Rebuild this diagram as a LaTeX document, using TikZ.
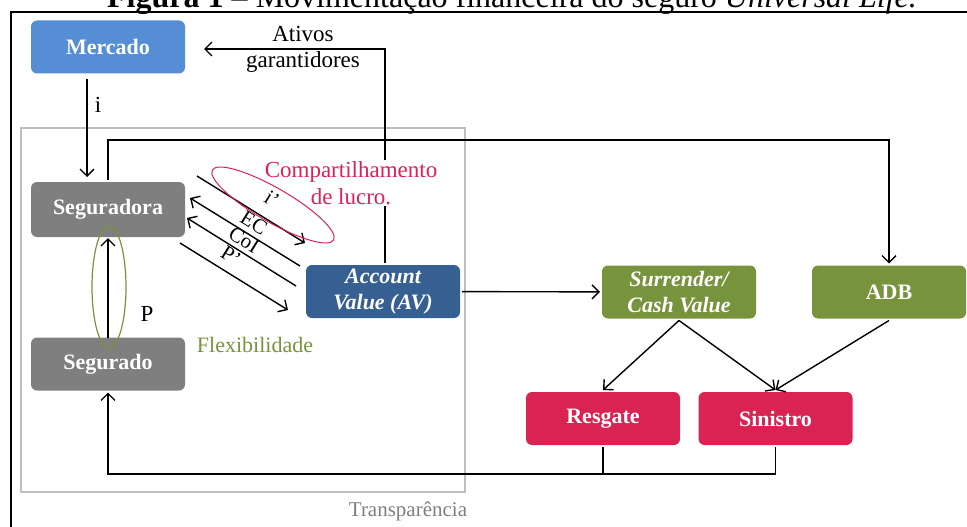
\documentclass[tikz,border=0pt]{standalone}
\usepackage{fontspec}
\setmainfont{Liberation Serif}
\usetikzlibrary{arrows.meta}
\definecolor{mercadoblue}{RGB}{85,142,213}
\definecolor{boxgray}{RGB}{127,127,127}
\definecolor{avblue}{RGB}{55,96,146}
\definecolor{leafgreen}{RGB}{119,147,60}
\definecolor{crimson}{RGB}{217,35,83}
\definecolor{framegray}{RGB}{191,191,191}

\begin{document}
\begin{tikzpicture}[x=1pt,y=-1pt,
  >={Straight Barb[length=7pt,width=14pt]},
  box/.style={rounded corners=6pt, minimum width=154pt, minimum height=53pt,
    inner sep=2pt, outer sep=2pt, text=white, align=center,
    font={\fontsize{22}{26}\selectfont\bfseries}},
  flow/.style={line width=1.4pt},
  lbl/.style={font={\fontsize{23}{26}\selectfont}, inner sep=1pt, align=center},
  flowlbl/.style={font={\fontsize{21}{22}\selectfont}, inner sep=0pt, rotate=-32}]
\useasboundingbox (0,0) rectangle (967,527);

% legenda cortada e moldura
\node[anchor=base, font={\fontsize{32}{34}\selectfont}] (caption) at (512,8)
  {\textbf{Figura 1 –} Movimentação financeira do seguro \textit{Universal Life.}};
\draw[line width=1.6pt] (11,540) -- (11,12) -- (980,12);
\draw[framegray, line width=1.5pt] (21,128) rectangle (465,492);
\node[lbl, text=boxgray, font={\fontsize{21}{24}\selectfont}] (transp) at (408,511) {Transparência};

% caixas
\node[box, fill=mercadoblue] (mercado) at (108,47) {Mercado};
\node[box, fill=boxgray, minimum height=55pt] (seguradora) at (108,209.5) {Seguradora};
\node[box, fill=boxgray] (segurado) at (108,364) {Segurado};
\node[box, fill=avblue] (av) at (383,291.5) {\itshape Account\\\itshape Value (AV)};
\node[box, fill=leafgreen] (surr) at (679,292) {\itshape Surrender/\\\itshape Cash Value};
\node[box, fill=leafgreen] (adb) at (889,292) {ADB};
\node[box, fill=crimson] (resgate) at (603,418.5) {Resgate};
\node[box, fill=crimson] (sinistro) at (775.5,418.5) {Sinistro};

% Mercado -> Seguradora
\draw[flow,->] ([xshift=-21pt,yshift=-4pt]mercado.south) -- ([xshift=-21pt,yshift=3pt]seguradora.north);
\node[lbl] (ilbl) at (98,105) {i};

% ativos garantidores
\coordinate (ativostip) at (204,49);
\draw[flow,->] ([xshift=2pt]av.north) |- (ativostip);
\node[lbl] (ativos) at (303,49) {Ativos\\garantidores};
\node[lbl, text=crimson, fill=white, font={\fontsize{23}{27}\selectfont}] (lucro) at (351,183) {Compartilhamento\\de lucro.};

% Seguradora -> ADB
\coordinate (topbend) at (889,140);
\draw[flow,->] ([outer sep=0pt]seguradora.north) |- (topbend) -- (adb.north);

% Segurado -> Seguradora, premio
\draw[flow,->] ([yshift=-2pt]segurado.north) -- ([yshift=1pt]seguradora.south);
\draw[leafgreen, line width=1.2pt] (109,287) ellipse [x radius=17pt, y radius=61pt];
\node[lbl] (plbl) at (147,314) {P};
\node[lbl, text=leafgreen, font={\fontsize{22}{24}\selectfont}] (flex) at (255,345) {Flexibilidade};

% fluxos entre Seguradora e AV
\coordinate (ia) at (197,176);  \coordinate (ib) at (305,243);
\coordinate (eca) at (190,198); \coordinate (ecb) at (300,266);
\coordinate (coia) at (187,218); \coordinate (coib) at (296,286);
\coordinate (pa) at (180,243);  \coordinate (pb) at (288,310);
\draw[flow,->] (ia) -- (ib);
\draw[flow,<-] (eca) -- (ecb);
\draw[flow,<-] (coia) -- (coib);
\draw[flow,->] (pa) -- (pb);
\node[flowlbl] (ilbl2) at (272,199) {i’};
\node[flowlbl] (eclbl) at (254,223) {EC};
\node[flowlbl] (coilbl) at (244,240) {CoI};
\node[flowlbl] (p2lbl) at (231,256) {P’};
\draw[crimson, line width=1pt, rotate around={-30:(273,205)}] (273,205) ellipse [x radius=70pt, y radius=17pt];

% saidas
\draw[flow,->] (av) -- (surr);
\draw[flow,->] (surr.south) -- (resgate.north);
\draw[flow,->] (surr.south) -- (sinistro.north);
\draw[flow,->] (adb.south) -- (sinistro.north);

% retorno ao segurado
\coordinate (retorno) at (108,474);
\draw[flow] (resgate.south) -- (resgate.south |- retorno);
\draw[flow,->] (sinistro.south) |- (retorno) -- (segurado.south);
\end{tikzpicture}
\end{document}
